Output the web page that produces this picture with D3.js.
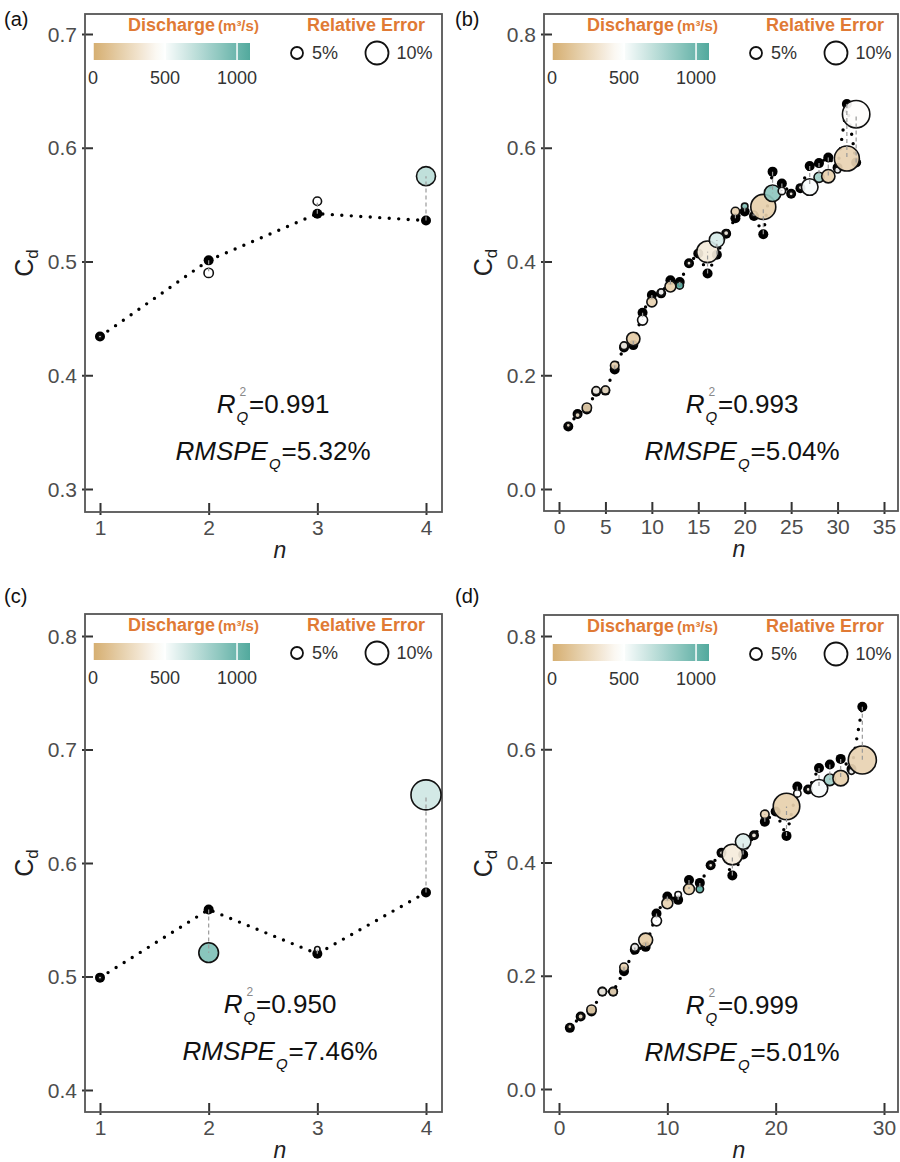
<!doctype html>
<html lang="en">
<head>
<meta charset="utf-8">
<title>Cd against n</title>
<script src="https://d3js.org/d3.v7.min.js"></script>
<style>
  body { margin: 0; background: #fff; }
  svg { display: block; font-family: 'Liberation Sans', Arial, sans-serif; }
  .tick text { fill: #4d4d4d; font-size: 21px; font-family: 'Liberation Sans', Arial, sans-serif; }
  .tick line { stroke: #333; stroke-width: 2; }
  .frame { fill: none; stroke: #555; stroke-width: 1.8; }
  .leg-title { fill: #e07a35; font-weight: bold; font-size: 18px; }
  .leg-text { fill: #333; font-size: 18px; }
  .stat { font-size: 26px; fill: #111; }
  .fit { stroke: #111; stroke-width: 1.6; }
  .link { stroke: #9a9a9a; stroke-width: 1.2; stroke-dasharray: 4 3; }
  .path-dots { fill: none; stroke: #000; stroke-width: 3.4; stroke-linecap: round; stroke-dasharray: 0 9.5; }
</style>
</head>
<body>
<div id="chart"></div>
<script>
// ---- panel (a) ----
const nA = [1, 2, 3, 4];
const cdA = [0.434, 0.501, 0.542, 0.536];      // black points
const fitA = [0.434, 0.490, 0.553, 0.575];     // circles
const errA = [1.0, 3.8, 3.4, 8.2];             // relative error (%)
const qA = [480, 480, 480, 720];               // discharge (m3/s)

// ---- panel (b) ----
const nB = d3.range(1, 33);
const cdB = [0.110, 0.132, 0.140, 0.171, 0.173, 0.210, 0.249, 0.253, 0.310, 0.341,
  0.344, 0.367, 0.364, 0.397, 0.414, 0.379, 0.412, 0.449, 0.476, 0.488,
  0.480, 0.448, 0.558, 0.537, 0.519, 0.529, 0.568, 0.573, 0.583, 0.565,
  0.677, 0.574];
const fitB = [0.112, 0.130, 0.143, 0.173, 0.174, 0.217, 0.252, 0.264, 0.297, 0.329,
  0.346, 0.356, 0.358, 0.397, 0.416, 0.417, 0.438, 0.450, 0.488, 0.497,
  0.484, 0.496, 0.520, 0.524, 0.519, 0.530, 0.531, 0.548, 0.550, 0.561,
  0.581, 0.659];
const errB = [1.5, 2, 3.8, 3.2, 3.2, 3.4, 3, 5.6, 4.1, 4.1,
  2.5, 4.5, 2.9, 1.5, 1.5, 9.4, 6.4, 2, 3.4, 2.5,
  2, 10.9, 7.1, 2.9, 1.5, 1.5, 7.1, 4.1, 5.6, 2.3,
  10.9, 12];
const qB = [300, 300, 200, 420, 300, 220, 420, 180, 480, 220,
  480, 200, 1050, 400, 400, 360, 620, 400, 220, 900,
  400, 200, 880, 480, 400, 400, 500, 820, 200, 480,
  220, 470];

// ---- panel (c) ----
const nC = [1, 2, 3, 4];
const cdC = [0.499, 0.559, 0.520, 0.574];
const fitC = [0.499, 0.521, 0.524, 0.660];
const errC = [1.0, 8.5, 2.0, 13.2];
const qC = [480, 930, 480, 650];

// ---- panel (d) ----
const nD = d3.range(1, 29);
const cdD = [0.108, 0.128, 0.137, 0.172, 0.172, 0.208, 0.246, 0.251, 0.310, 0.340,
  0.334, 0.369, 0.364, 0.395, 0.417, 0.377, 0.414, 0.448, 0.472, 0.490,
  0.447, 0.534, 0.529, 0.567, 0.573, 0.583, 0.565, 0.675];
const fitD = [0.110, 0.128, 0.140, 0.172, 0.172, 0.215, 0.250, 0.263, 0.297, 0.328,
  0.343, 0.353, 0.353, 0.395, 0.417, 0.414, 0.437, 0.448, 0.485, 0.490,
  0.499, 0.522, 0.529, 0.531, 0.546, 0.549, 0.561, 0.581];
const errD = [1.5, 2, 3.8, 3.2, 3.2, 3.4, 3, 5.9, 4.1, 4.5,
  2.5, 4.5, 2.9, 1.5, 1.5, 8.9, 6.6, 2, 3.4, 1.5,
  11.6, 2.9, 1.5, 7.5, 4.8, 6.6, 2.3, 12.3];
const qD = [300, 300, 200, 420, 250, 220, 470, 180, 480, 220,
  480, 200, 1050, 400, 400, 360, 600, 400, 220, 400,
  200, 480, 400, 500, 820, 200, 480, 220];

// tick labels
const xTicksA = [1, 2, 3, 4];
const xTicksB = [0, 5, 10, 15, 20, 25, 30, 35];
const xTicksD = [0, 10, 20, 30];
const yTicksA = [0.3, 0.4, 0.5, 0.6, 0.7];
const yTicksB = [0.0, 0.2, 0.4, 0.6, 0.8];
const yTicksC = [0.4, 0.5, 0.6, 0.7, 0.8];
const legendBreaks = [0, 500, 1000];
const legendErr = [5, 10];

const W = 900, H = 1162;
const svg = d3.select('#chart').append('svg').attr('width', W).attr('height', H);

// discharge colour and error size
const color = d3.scaleLinear().domain([0, 480, 1090]).range(['#d5ae70', '#ffffff', '#52a99d']);
const radius = d3.scaleLinear().domain([5, 10]).range([6, 11.5]);

const defs = svg.append('defs');
const grad = defs.append('linearGradient').attr('id', 'qgrad');
d3.range(0, 1.0001, 0.05).forEach(t => {
  grad.append('stop').attr('offset', t).attr('stop-color', color(t * 1090));
});

const panels = [
  { label: '(a)', lx: 4, ly: 26, box: [85, 14, 442, 512], xDom: [1, 4], xRng: [100, 426], xTicks: xTicksA,
    yDom: [0.3, 0.7], yRng: [489, 34], yTicks: yTicksA, n: nA, cd: cdA, fit: fitA, err: errA, q: qA,
    r2: '=0.991', rmspe: '=5.32%', statX: 273 },
  { label: '(b)', lx: 455, ly: 26, box: [544, 14, 898, 511], xDom: [0, 35], xRng: [559, 884], xTicks: xTicksB,
    yDom: [0, 0.8], yRng: [489, 34], yTicks: yTicksB, n: nB, cd: cdB, fit: fitB, err: errB, q: qB,
    r2: '=0.993', rmspe: '=5.04%', statX: 742 },
  { label: '(c)', lx: 4, ly: 603, box: [85, 614, 442, 1112], xDom: [1, 4], xRng: [100, 426], xTicks: xTicksA,
    yDom: [0.4, 0.8], yRng: [1090, 636], yTicks: yTicksC, n: nC, cd: cdC, fit: fitC, err: errC, q: qC,
    r2: '=0.950', rmspe: '=7.46%', statX: 280 },
  { label: '(d)', lx: 455, ly: 603, box: [544, 615, 898, 1112], xDom: [0, 30], xRng: [559, 884], xTicks: xTicksD,
    yDom: [0, 0.8], yRng: [1089, 636], yTicks: yTicksB, n: nD, cd: cdD, fit: fitD, err: errD, q: qD,
    r2: '=0.999', rmspe: '=5.01%', statX: 742 }
];

panels.forEach(drawPanel);

function drawPanel(p) {
  const [l, t, r, b] = p.box;
  const x = d3.scaleLinear().domain(p.xDom).range(p.xRng);
  const y = d3.scaleLinear().domain(p.yDom).range(p.yRng);
  const g = svg.append('g');

  // panel letter
  g.append('text').attr('x', p.lx).attr('y', p.ly)
    .style('font-size', '20px').attr('fill', '#111').text(p.label);

  // axes
  const xAxis = g.append('g').attr('transform', `translate(0,${b})`)
    .call(d3.axisBottom(x).tickValues(p.xTicks).tickFormat(d3.format('d')));
  xAxis.select('.domain').remove();
  xAxis.selectAll('.tick line').attr('y1', 3).attr('y2', -9);
  xAxis.selectAll('.tick text').attr('y', 8).attr('dy', '0.71em');

  const yAxis = g.append('g').attr('transform', `translate(${l},0)`)
    .call(d3.axisLeft(y).tickValues(p.yTicks).tickFormat(d3.format('.1f')));
  yAxis.select('.domain').remove();
  yAxis.selectAll('.tick line').attr('x1', -3).attr('x2', 8);
  yAxis.selectAll('.tick text').attr('x', -8).attr('dy', '0.34em');

  g.append('rect').attr('class', 'frame')
    .attr('x', l).attr('y', t).attr('width', r - l).attr('height', b - t);

  // axis titles
  const yt = g.append('text')
    .attr('transform', `translate(${l - 52},${(t + b) / 2}) rotate(-90)`)
    .attr('text-anchor', 'middle').attr('fill', '#222');
  yt.append('tspan').style('font-size', '25px').text('C');
  yt.append('tspan').style('font-size', '17px').attr('dy', 5).text('d');

  g.append('text').attr('x', l + 195).attr('y', b + 46).attr('text-anchor', 'middle')
    .style('font-size', '23px').style('font-style', 'italic').attr('fill', '#222').text('n');

  drawLegend(g, l, t);

  const rows = p.n.map((n, i) => ({ n, cd: p.cd[i], fit: p.fit[i], err: p.err[i], q: p.q[i] }));

  // dotted line through the black points
  g.append('path').attr('class', 'path-dots')
    .attr('d', d3.line().x(d => x(d.n)).y(d => y(d.cd))(rows));

  g.append('g').selectAll('circle').data(rows).join('circle')
    .attr('cx', d => x(d.n)).attr('cy', d => y(d.cd)).attr('r', 5).attr('fill', '#000');

  g.append('g').selectAll('circle').data(rows).join('circle')
    .attr('class', 'fit')
    .attr('cx', d => x(d.n)).attr('cy', d => y(d.fit))
    .attr('r', d => radius(d.err))
    .attr('fill', d => color(d.q)).attr('fill-opacity', 0.92);

  g.append('g').selectAll('line').data(rows.filter(d => Math.abs(d.fit - d.cd) > 0.004)).join('line')
    .attr('class', 'link')
    .attr('x1', d => x(d.n)).attr('x2', d => x(d.n))
    .attr('y1', d => y(d.cd)).attr('y2', d => y(d.fit));

  // statistics
  stat(g, p.statX, t + 399, 'R', 'Q', '2', p.r2);
  stat(g, p.statX, t + 446, 'RMSPE', 'Q', null, p.rmspe);
}

function drawLegend(g, l, t) {
  const lg = g.append('g').attr('transform', `translate(${l},${t})`);
  const title = lg.append('text').attr('class', 'leg-title').attr('x', 43).attr('y', 17);
  title.append('tspan').text('Discharge');
  title.append('tspan').attr('dx', 3).style('font-size', '15px').text('(m³/s)');

  const qx = d3.scaleLinear().domain([0, 1090]).range([8, 165]);
  lg.append('rect').attr('x', qx(0)).attr('y', 29).attr('width', qx(1090) - qx(0)).attr('height', 17)
    .attr('fill', 'url(#qgrad)');
  lg.selectAll('.qtick').data(legendBreaks).join('line')
    .attr('x1', d => qx(d)).attr('x2', d => qx(d)).attr('y1', 29).attr('y2', 46)
    .attr('stroke', '#fff').attr('stroke-width', 1.5);
  lg.selectAll('.qlab').data(legendBreaks).join('text').attr('class', 'leg-text')
    .attr('x', d => qx(d)).attr('y', 70).attr('text-anchor', 'middle').text(d => d);

  lg.append('text').attr('class', 'leg-title').attr('x', 281).attr('y', 17)
    .attr('text-anchor', 'middle').text('Relative Error');
  const ex = [212, 292];
  legendErr.forEach((e, i) => {
    lg.append('circle').attr('cx', ex[i]).attr('cy', 39).attr('r', radius(e))
      .attr('fill', 'none').attr('stroke', '#111').attr('stroke-width', 1.8);
    lg.append('text').attr('class', 'leg-text').attr('x', ex[i] + radius(e) + 9 - (i ? 1 : 0))
      .attr('y', 45).text(e + '%');
  });
}

function stat(g, cx, y, lead, sub, sup, tail) {
  const s = g.append('g').attr('class', 'stat');
  const a = s.append('text').style('font-style', 'italic').text(lead);
  const w1 = a.node().getComputedTextLength();
  const q = s.append('text').attr('x', w1 + 1).attr('y', 9)
    .style('font-style', 'italic').style('font-size', '15px').text(sub);
  const w2 = q.node().getComputedTextLength();
  if (sup) {
    s.append('text').attr('x', w1 + 4).attr('y', -17).style('font-size', '12px')
      .attr('fill', '#888').text(sup);
  }
  const tl = s.append('text').attr('x', w1 + w2 + 2).text(tail);
  const w = w1 + w2 + 2 + tl.node().getComputedTextLength();
  s.attr('transform', `translate(${cx - w / 2},${y})`);
}
</script>
</body>
</html>
